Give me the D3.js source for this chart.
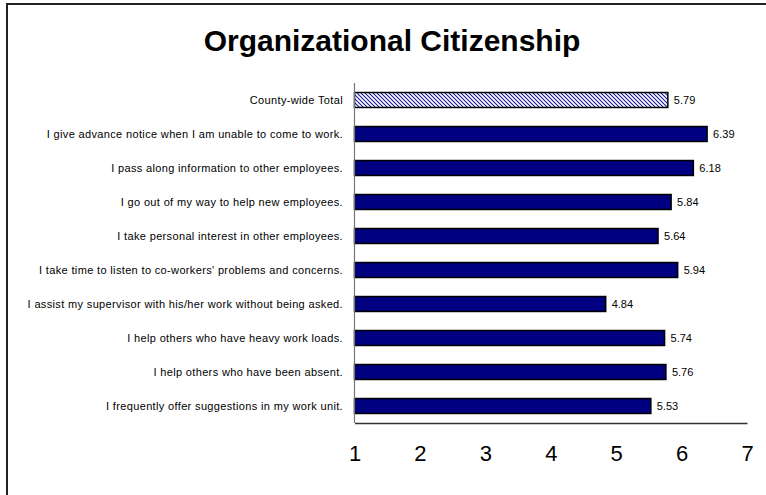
<!DOCTYPE html>
<html>
<head>
<meta charset="utf-8">
<script src="https://cdn.jsdelivr.net/npm/d3@7"></script>
<style>
  html, body { margin: 0; padding: 0; background: #fff; }
  svg { display: block; font-family: Arial, "Liberation Sans", sans-serif; }
</style>
</head>
<body>
<svg id="chart" width="766" height="495"></svg>
<script>
const title = "Organizational Citizenship";
const categories = [
  "County-wide Total",
  "I give advance notice when I am unable to come to work.",
  "I pass along information to other employees.",
  "I go out of my way to help new employees.",
  "I take personal interest in other employees.",
  "I take time to listen to co-workers' problems and concerns.",
  "I assist my supervisor with his/her work without being asked.",
  "I help others who have heavy work loads.",
  "I help others who have been absent.",
  "I frequently offer suggestions in my work unit."
];
const values = [5.79, 6.39, 6.18, 5.84, 5.64, 5.94, 4.84, 5.74, 5.76, 5.53];
const totalFlags = [true, false, false, false, false, false, false, false, false, false];
const xTicks = [1, 2, 3, 4, 5, 6, 7];
const xDomain = [1, 7];

const svg = d3.select("#chart");
const W = 766, H = 495;
const plot = { left: 354.5, right: 747, top: 83, bottom: 423 };

// frame (left and top edges visible)
svg.append("line").attr("x1", 7).attr("x2", 7).attr("y1", 3).attr("y2", H)
  .attr("stroke", "#222").attr("stroke-width", 2);
svg.append("line").attr("x1", 6).attr("x2", W).attr("y1", 4).attr("y2", 4)
  .attr("stroke", "#222").attr("stroke-width", 2);

// title
svg.append("text").attr("x", 392).attr("y", 51)
  .attr("text-anchor", "middle")
  .attr("font-size", 30).attr("font-weight", "bold")
  .attr("fill", "#000").text(title);

const defs = svg.append("defs");
const pat = defs.append("pattern").attr("id", "hatch")
  .attr("patternUnits", "userSpaceOnUse").attr("width", 4).attr("height", 4);
pat.append("rect").attr("width", 4).attr("height", 4).attr("fill", "#fff");
pat.append("path").attr("d", "M-1,-1 L5,5 M-1,3 L1,5 M3,-1 L5,1")
  .attr("stroke", "#1a1a9a").attr("stroke-width", 1.1);

const x = d3.scaleLinear().domain(xDomain).range([plot.left, plot.right]);
const y = d3.scaleBand().domain(categories).range([plot.top, plot.bottom]).paddingInner(0.56).paddingOuter(0.28);

const data = categories.map((c, i) => ({ c, v: values[i], total: totalFlags[i] }));

// bars
svg.append("g").selectAll("rect").data(data).join("rect")
  .attr("x", x(xDomain[0]))
  .attr("y", d => y(d.c))
  .attr("width", d => x(d.v) - x(xDomain[0]))
  .attr("height", y.bandwidth())
  .attr("fill", d => d.total ? "url(#hatch)" : "#000080")
  .attr("stroke", "#000").attr("stroke-width", 1.5);

// value labels
svg.append("g").selectAll("text").data(data).join("text")
  .attr("x", d => x(d.v) + 6)
  .attr("y", d => y(d.c) + y.bandwidth() / 2 + 4)
  .attr("font-size", 11).attr("fill", "#000")
  .text(d => d.v.toFixed(2));

// category labels
svg.append("g").selectAll("text").data(data).join("text")
  .attr("x", 343)
  .attr("y", d => y(d.c) + y.bandwidth() / 2 + 4)
  .attr("text-anchor", "end")
  .attr("font-size", 11).attr("letter-spacing", 0.35).attr("fill", "#000")
  .text(d => d.c);

// y axis line
svg.append("line").attr("x1", plot.left).attr("x2", plot.left)
  .attr("y1", plot.top).attr("y2", plot.bottom)
  .attr("stroke", "#777").attr("stroke-width", 1.2);

// x axis
const xAxis = d3.axisBottom(x).tickValues(xTicks).tickSize(0).tickPadding(0).tickFormat(d3.format("d"));
const gx = svg.append("g").attr("transform", `translate(0,${plot.bottom})`).call(xAxis);
gx.select(".domain").attr("stroke", "#333").attr("stroke-width", 1.3);
gx.selectAll("text").attr("font-size", 22).attr("font-family", "Arial, 'Liberation Sans', sans-serif")
  .attr("fill", "#000").attr("dy", 0).attr("y", 38);
</script>
</body>
</html>
